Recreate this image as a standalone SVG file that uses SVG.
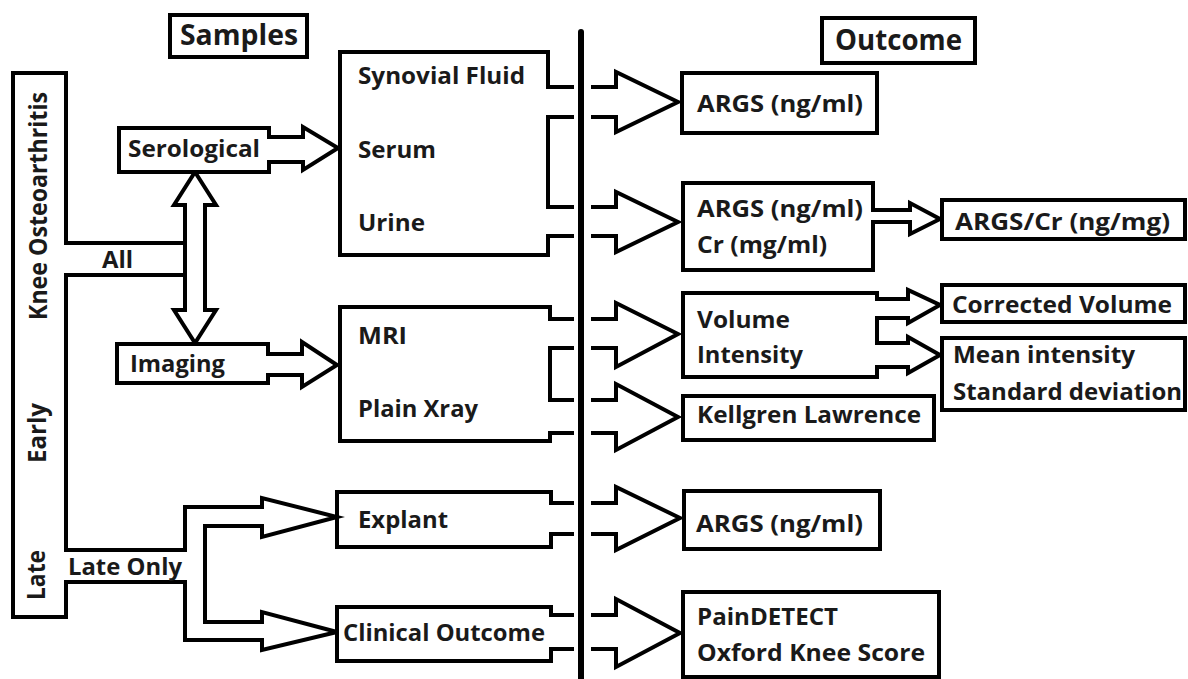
<svg xmlns="http://www.w3.org/2000/svg" width="1188" height="679" viewBox="0 0 1188 679">
<style>
.ln{fill:none;stroke:#000;stroke-width:4;stroke-linejoin:miter;stroke-linecap:square}
.bx{fill:#fff;stroke:#000;stroke-width:4;stroke-linejoin:miter}
.t{font-family:"Open Sans","Liberation Sans",sans-serif;font-weight:700;font-size:24px;fill:#1a1a1a}
.h{font-size:28px}
.v{font-size:25px}
</style>
<rect width="1188" height="679" fill="#fff"/>
<g id="connectors">
  <path class="ln" d="M185,275 H66 V550 H185 V507 H262 V498 L337,517 L262,537 V526 H205 V622 H262 V612 L337,632 L262,650 V640 H185 V582 H66 V617 H13 V73 H66 V243 H185"/>
  <polygon class="bx" points="195,172 216,205 205,205 205,310 216,310 195,343 174,310 185,310 185,205 174,205"/>
  <path class="ln" d="M572,117 H548 V207 H572"/>
  <path class="ln" d="M572,348 H550 V400 H572"/>
  <path class="ln" d="M593,87 H616 V72 L678,102 L616,132 V117 H593"/>
  <path class="ln" d="M593,207 H616 V192 L678,222 L616,252 V236 H593"/>
  <path class="ln" d="M593,319 H616 V303 L678,334 L616,367 V348 H593"/>
  <path class="ln" d="M593,400 H616 V384 L678,417 L616,450 V433 H593"/>
  <path class="ln" d="M593,503 H616 V487 L680,518 L616,550 V534 H593"/>
  <path class="ln" d="M593,615 H616 V599 L680,633 L616,667 V649 H593"/>
  <line x1="581" y1="32" x2="581" y2="679" stroke="#000" stroke-width="6" stroke-linecap="round"/>
</g>
<g id="samples">
  <rect class="bx" x="170" y="15" width="137" height="42"/>
  <text class="t h" x="180" y="45" textLength="118" lengthAdjust="spacingAndGlyphs">Samples</text>
</g>
<g id="outcome">
  <rect class="bx" x="822" y="18" width="153" height="45"/>
  <text class="t h" x="835" y="50" textLength="127" lengthAdjust="spacingAndGlyphs">Outcome</text>
</g>
<g id="knee-oa">
  <text class="t v" transform="translate(47,320) rotate(-90)" textLength="228" lengthAdjust="spacingAndGlyphs">Knee Osteoarthritis</text>
  <text class="t v" transform="translate(46,463) rotate(-90)" textLength="60" lengthAdjust="spacingAndGlyphs">Early</text>
  <text class="t v" transform="translate(45,600) rotate(-90)" textLength="50" lengthAdjust="spacingAndGlyphs">Late</text>
  <text class="t" x="102" y="268" textLength="31" lengthAdjust="spacingAndGlyphs">All</text>
  <text class="t" x="68" y="575" textLength="114" lengthAdjust="spacingAndGlyphs">Late Only</text>
</g>
<g id="serological">
  <polygon class="bx" points="119,128 269,128 269,137 303,137 303,127 338,148 303,170 303,162 269,162 269,172 119,172"/>
  <text class="t" x="128" y="157" textLength="132" lengthAdjust="spacingAndGlyphs">Serological</text>
</g>
<g id="imaging">
  <polygon class="bx" points="117,344 268,344 268,354 302,354 302,342 337,365 302,387 302,375 268,375 268,383 117,383"/>
  <text class="t" x="130" y="372" textLength="95" lengthAdjust="spacingAndGlyphs">Imaging</text>
</g>
<g id="fluids">
  <path class="ln" d="M572,87 H548 V52 H340 V255 H548 V236 H572"/>
  <text class="t" x="358" y="84" textLength="167" lengthAdjust="spacingAndGlyphs">Synovial Fluid</text>
  <text class="t" x="358" y="158" textLength="78" lengthAdjust="spacingAndGlyphs">Serum</text>
  <text class="t" x="358" y="231" textLength="67" lengthAdjust="spacingAndGlyphs">Urine</text>
</g>
<g id="mri-xray">
  <path class="ln" d="M572,319 H550 V307 H340 V441 H550 V433 H572"/>
  <text class="t" x="358" y="344" textLength="49" lengthAdjust="spacingAndGlyphs">MRI</text>
  <text class="t" x="358" y="417" textLength="120" lengthAdjust="spacingAndGlyphs">Plain Xray</text>
</g>
<g id="explant">
  <path class="ln" d="M572,503 H551 V492 H337 V547 H551 V534 H572"/>
  <text class="t" x="358" y="528" textLength="90" lengthAdjust="spacingAndGlyphs">Explant</text>
</g>
<g id="clinical">
  <path class="ln" d="M572,615 H551 V607 H337 V661 H551 V649 H572"/>
  <text class="t" x="343" y="641" textLength="202" lengthAdjust="spacingAndGlyphs">Clinical Outcome</text>
</g>
<g id="args1">
  <rect class="bx" x="682" y="73" width="195" height="60"/>
  <text class="t" x="697" y="112" textLength="166" lengthAdjust="spacingAndGlyphs">ARGS (ng/ml)</text>
</g>
<g id="args2">
  <polygon class="bx" points="683,183 873,183 873,210 910,210 910,203 940,219 910,234 910,222 873,222 873,270 683,270"/>
  <text class="t" x="697" y="217" textLength="166" lengthAdjust="spacingAndGlyphs">ARGS (ng/ml)</text>
  <text class="t" x="697" y="253" textLength="130" lengthAdjust="spacingAndGlyphs">Cr (mg/ml)</text>
</g>
<g id="args-cr">
  <rect class="bx" x="942" y="200" width="243" height="39"/>
  <text class="t" x="955" y="230" textLength="215" lengthAdjust="spacingAndGlyphs">ARGS/Cr (ng/mg)</text>
</g>
<g id="volume">
  <polygon class="bx" points="683,293 877,293 877,299 908,299 908,290 940,305 908,323 908,318 877,318 877,343 908,343 908,337 940,355 908,373 908,367 877,367 877,377 683,377"/>
  <text class="t" x="697" y="328" textLength="93" lengthAdjust="spacingAndGlyphs">Volume</text>
  <text class="t" x="697" y="363" textLength="106" lengthAdjust="spacingAndGlyphs">Intensity</text>
</g>
<g id="corrected-volume">
  <rect class="bx" x="942" y="285" width="243" height="37"/>
  <text class="t" x="952" y="313" textLength="220" lengthAdjust="spacingAndGlyphs">Corrected Volume</text>
</g>
<g id="mean-intensity">
  <rect class="bx" x="942" y="338" width="243" height="72"/>
  <text class="t" x="953" y="363" textLength="182" lengthAdjust="spacingAndGlyphs">Mean intensity</text>
  <text class="t" x="953" y="400" textLength="229" lengthAdjust="spacingAndGlyphs">Standard deviation</text>
</g>
<g id="kellgren">
  <rect class="bx" x="683" y="396" width="251" height="44"/>
  <text class="t" x="697" y="423" textLength="224" lengthAdjust="spacingAndGlyphs">Kellgren Lawrence</text>
</g>
<g id="args3">
  <rect class="bx" x="684" y="491" width="196" height="58"/>
  <text class="t" x="696" y="532" textLength="167" lengthAdjust="spacingAndGlyphs">ARGS (ng/ml)</text>
</g>
<g id="pain">
  <rect class="bx" x="683" y="592" width="256" height="85"/>
  <text class="t" x="697" y="625" textLength="141" lengthAdjust="spacingAndGlyphs">PainDETECT</text>
  <text class="t" x="697" y="661" textLength="228" lengthAdjust="spacingAndGlyphs">Oxford Knee Score</text>
</g>
</svg>
